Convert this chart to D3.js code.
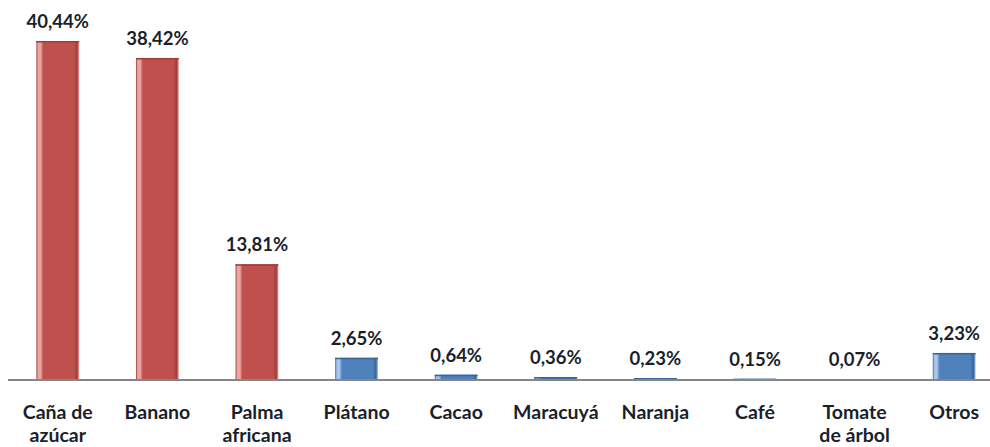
<!DOCTYPE html>
<html>
<head>
<meta charset="utf-8">
<script src="https://d3js.org/d3.v7.min.js"></script>
<style>
  body { margin: 0; background: #fff; }
  svg { display: block; }
  .val { font-family: Lato, "Open Sans", sans-serif; font-weight: bold; font-size: 18.5px; fill: #1a1f2b; }
  .cat { font-family: Lato, "Open Sans", sans-serif; font-weight: bold; font-size: 19.5px; fill: #1a1f2b; }
</style>
</head>
<body>
<svg id="chart"></svg>
<script>
// crop shares (%)
var cultivos = [['Caña de', 'azúcar'], ['Banano'], ['Palma', 'africana'], ['Plátano'], ['Cacao'],
  ['Maracuyá'], ['Naranja'], ['Café'], ['Tomate', 'de árbol'], ['Otros']];
var valores = [40.44, 38.42, 13.81, 2.65, 0.64, 0.36, 0.23, 0.15, 0.07, 3.23];
var etiquetas = ['40,44%', '38,42%', '13,81%', '2,65%', '0,64%', '0,36%', '0,23%', '0,15%', '0,07%', '3,23%'];
var grupo = ['rojo', 'rojo', 'rojo', 'azul', 'azul', 'azul', 'azul', 'azul', 'azul', 'azul'];

var WIDTH = 990, HEIGHT = 447;
var baseY = 380;

var svg = d3.select('#chart').attr('width', WIDTH).attr('height', HEIGHT);

var x = d3.scaleBand().domain(d3.range(valores.length)).range([8, 1004]).paddingInner(0.57).paddingOuter(0.285);
var y = d3.scaleLinear().domain([0, 40.44]).range([baseY, 41]);

// gradients to mimic the bevelled bars
var defs = svg.append('defs');
var colores = {
  rojo: { light: '#eba6a4', main: '#c0504d', dark: '#9c3c3a' },
  azul: { light: '#a9c6ea', main: '#4f81bd', dark: '#3a6496' }
};
Object.keys(colores).forEach(function (k) {
  var c = colores[k];
  var gr = defs.append('linearGradient').attr('id', 'g-' + k).attr('x1', 0).attr('x2', 1).attr('y1', 0).attr('y2', 0);
  [[0, c.dark], [0.04, c.light], [0.1, c.light], [0.16, c.main], [0.88, c.main], [0.95, c.dark], [1, c.light]]
    .forEach(function (s) { gr.append('stop').attr('offset', s[0]).attr('stop-color', s[1]); });
});

var idx = d3.range(valores.length);

svg.selectAll('rect.bar').data(idx).enter().append('rect')
  .attr('class', 'bar')
  .attr('x', function (i) { return x(i); })
  .attr('y', function (i) { return y(valores[i]); })
  .attr('width', x.bandwidth())
  .attr('height', function (i) { return baseY - y(valores[i]); })
  .attr('fill', function (i) { return 'url(#g-' + grupo[i] + ')'; });

// top edge
svg.selectAll('line.top').data(idx).enter().append('line')
  .attr('x1', function (i) { return x(i); })
  .attr('x2', function (i) { return x(i) + x.bandwidth(); })
  .attr('y1', function (i) { return y(valores[i]) + 0.75; })
  .attr('y2', function (i) { return y(valores[i]) + 0.75; })
  .attr('stroke', function (i) { return colores[grupo[i]].dark; })
  .attr('stroke-width', 1.5);

// axis line
svg.append('line')
  .attr('x1', 8).attr('x2', WIDTH)
  .attr('y1', baseY).attr('y2', baseY)
  .attr('stroke', '#868686').attr('stroke-width', 2);

svg.selectAll('text.val').data(idx).enter().append('text')
  .attr('class', 'val')
  .attr('text-anchor', 'middle')
  .attr('x', function (i) { return x(i) + x.bandwidth() / 2; })
  .attr('y', function (i) { return y(valores[i]) - 13; })
  .text(function (i) { return etiquetas[i]; });

var cats = svg.selectAll('text.cat').data(idx).enter().append('text')
  .attr('class', 'cat')
  .attr('text-anchor', 'middle')
  .attr('x', function (i) { return x(i) + x.bandwidth() / 2; })
  .attr('y', 419);
cats.selectAll('tspan').data(function (i) { return cultivos[i].map(function (t, j) { return { t: t, j: j, i: i }; }); })
  .enter().append('tspan')
  .attr('x', function (d) { return x(d.i) + x.bandwidth() / 2; })
  .attr('dy', function (d) { return d.j === 0 ? 0 : 23; })
  .text(function (d) { return d.t; });
</script>
</body>
</html>
